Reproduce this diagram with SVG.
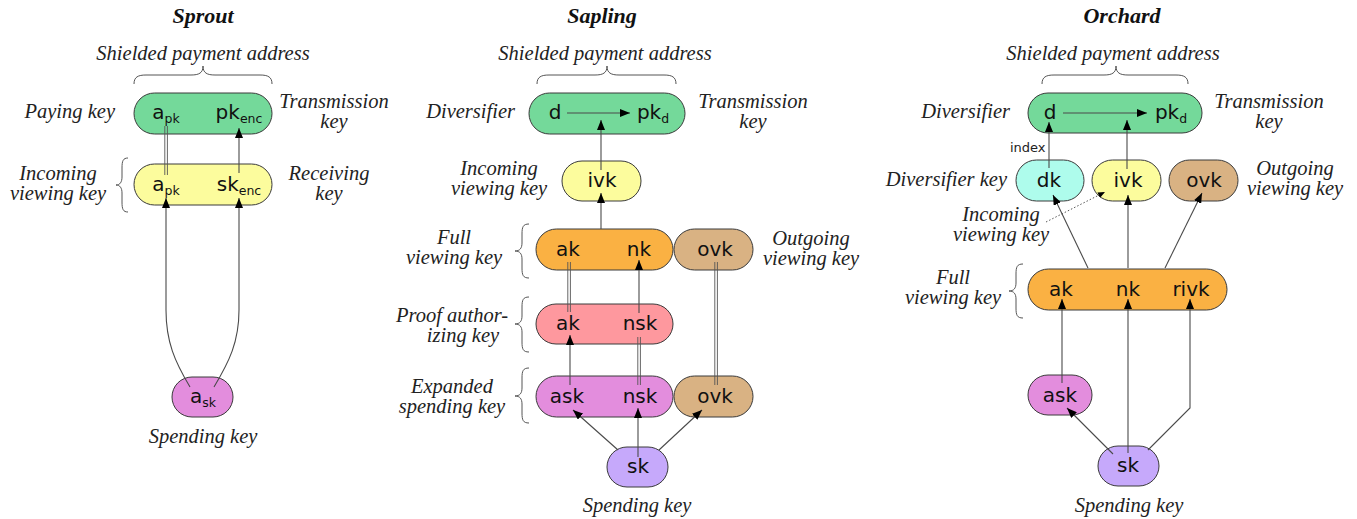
<svg xmlns="http://www.w3.org/2000/svg" width="1357" height="519" viewBox="0 0 1357 519">
<style>
.bg{fill:#ffffff}
.title{font-family:"Liberation Serif",serif;font-style:italic;font-weight:bold;font-size:22px;fill:#111;text-anchor:middle}
.lbl{font-family:"Liberation Serif",serif;font-style:italic;font-size:20.5px;fill:#222}
.mid{text-anchor:middle}
.end{text-anchor:end}
.nt{font-family:"DejaVu Sans",sans-serif;font-size:20px;fill:#111;text-anchor:middle}
.sub{font-size:12.5px}
.small{font-family:"DejaVu Sans",sans-serif;font-size:13px;fill:#222}
.node{stroke:#3a3a3a;stroke-width:1}
.green{fill:#74d99a}.yellow{fill:#fcfc9d}.orange{fill:#fab143}.tan{fill:#d9b283}
.pink{fill:#fe989e}.magenta{fill:#e38ddd}.lav{fill:#c6a9fb}.cyan{fill:#aefcec}
.brace{fill:none;stroke:#555;stroke-width:1}
.arr{fill:none;stroke:#4a4a4a;stroke-width:1.1;marker-end:url(#ah)}
.dbl{fill:none;stroke:#555;stroke-width:0.9}
.dot{fill:none;stroke:#555;stroke-width:1;stroke-dasharray:1.5 2;marker-end:url(#ahs)}
</style>
<defs>
<marker id="ah" markerUnits="userSpaceOnUse" markerWidth="10" markerHeight="8" refX="10" refY="4" orient="auto">
<path d="M0,0 L10,4 L0,8 z" fill="#000"/>
</marker>
<marker id="ahs" markerUnits="userSpaceOnUse" markerWidth="7" markerHeight="6" refX="7" refY="3" orient="auto">
<path d="M0,0 L7,3 L0,6 z" fill="#000"/>
</marker>
</defs>
<rect class="bg" x="0" y="0" width="1357" height="519"/>

<g id="labels">
<text class="title" x="203" y="23">Sprout</text>
<text class="title" x="602" y="23">Sapling</text>
<text class="title" x="1122" y="23">Orchard</text>

<text class="lbl mid" x="203" y="60">Shielded payment address</text>
<text class="lbl end" x="115" y="118">Paying key</text>
<text class="lbl mid" x="334" y="108">Transmission</text>
<text class="lbl mid" x="334" y="128">key</text>
<text class="lbl mid" x="58" y="180">Incoming</text>
<text class="lbl mid" x="58" y="200">viewing key</text>
<text class="lbl mid" x="329" y="180">Receiving</text>
<text class="lbl mid" x="329" y="200">key</text>
<text class="lbl mid" x="203" y="443">Spending key</text>

<text class="lbl mid" x="605" y="60">Shielded payment address</text>
<text class="lbl end" x="515" y="118">Diversifier</text>
<text class="lbl mid" x="753" y="108">Transmission</text>
<text class="lbl mid" x="753" y="128">key</text>
<text class="lbl mid" x="499" y="175">Incoming</text>
<text class="lbl mid" x="499" y="195">viewing key</text>
<text class="lbl mid" x="454" y="244">Full</text>
<text class="lbl mid" x="454" y="264">viewing key</text>
<text class="lbl mid" x="811" y="245">Outgoing</text>
<text class="lbl mid" x="811" y="265">viewing key</text>
<text class="lbl mid" x="452" y="322">Proof author-</text>
<text class="lbl mid" x="463" y="342">izing key</text>
<text class="lbl mid" x="452" y="393">Expanded</text>
<text class="lbl mid" x="452" y="413">spending key</text>
<text class="lbl mid" x="637" y="512">Spending key</text>

<text class="lbl mid" x="1113" y="60">Shielded payment address</text>
<text class="lbl end" x="1010" y="118">Diversifier</text>
<text class="lbl mid" x="1269" y="108">Transmission</text>
<text class="lbl mid" x="1269" y="128">key</text>
<text class="lbl end" x="1007" y="186">Diversifier key</text>
<text class="lbl mid" x="1295" y="175">Outgoing</text>
<text class="lbl mid" x="1295" y="195">viewing key</text>
<text class="lbl mid" x="1001" y="221">Incoming</text>
<text class="lbl mid" x="1001" y="241">viewing key</text>
<text class="lbl mid" x="953" y="284">Full</text>
<text class="lbl mid" x="953" y="304">viewing key</text>
<text class="lbl mid" x="1129" y="512">Spending key</text>
<text class="small" x="1010" y="152">index</text>
</g>

<g id="braces">
<path class="brace" d="M134,84 C134,77 138,75 146,75 L191,75 C199,75 203,73 203,66 C203,73 207,75 215,75 L260,75 C268,75 272,77 272,84"/>
<path class="brace" d="M537,84 C537,77 541,75 549,75 L595,75 C603,75 607,73 607,66 C607,73 611,75 619,75 L664,75 C672,75 676,77 676,84"/>
<path class="brace" d="M1042,84 C1042,77 1046,75 1054,75 L1104,75 C1112,75 1116,73 1116,66 C1116,73 1120,75 1128,75 L1176,75 C1184,75 1188,77 1188,84"/>
<path class="brace" d="M128,158 C123,158 122,161 122,168 L122,177 C122,182 120,185 116,185 C120,185 122,188 122,193 L122,202 C122,209 123,212 128,212"/>
<path class="brace" d="M529,224 C523,224 522,227 522,234 L522,243 C522,248 520,251 515,251 C520,251 522,254 522,259 L522,268 C522,275 523,278 529,278"/>
<path class="brace" d="M529,297 C523,297 522,300 522,307 L522,316 C522,321 520,324 515,324 C520,324 522,327 522,332 L522,342 C522,349 523,352 529,352"/>
<path class="brace" d="M529,368 C523,368 522,371 522,378 L522,388 C522,393 520,396 515,396 C520,396 522,399 522,404 L522,413 C522,420 523,423 529,423"/>
<path class="brace" d="M1023,264 C1017,264 1016,267 1016,274 L1016,283 C1016,288 1014,291 1009,291 C1014,291 1016,294 1016,299 L1016,308 C1016,315 1017,318 1023,318"/>
</g>

<g id="sprout-address">
<rect class="node green" x="134" y="93" width="138" height="41" rx="20.5"/>
<text class="nt" x="166" y="119">a<tspan class="sub" dy="4">pk</tspan></text>
<text class="nt" x="239" y="119">pk<tspan class="sub" dy="4">enc</tspan></text>
</g>
<g id="sprout-ivk">
<rect class="node yellow" x="134" y="164" width="138" height="41" rx="20.5"/>
<text class="nt" x="166" y="191">a<tspan class="sub" dy="4">pk</tspan></text>
<text class="nt" x="239" y="191">sk<tspan class="sub" dy="4">enc</tspan></text>
</g>
<g id="sprout-sk">
<rect class="node magenta" x="172" y="377" width="61" height="40" rx="20"/>
<text class="nt" x="203" y="403">a<tspan class="sub" dy="4">sk</tspan></text>
</g>

<g id="sapling-address">
<rect class="node green" x="529" y="93" width="156" height="41" rx="20.5"/>
<text class="nt" x="555" y="119">d</text>
<text class="nt" x="653" y="119">pk<tspan class="sub" dy="4">d</tspan></text>
</g>
<g id="sapling-ivk">
<rect class="node yellow" x="562" y="161" width="79" height="40" rx="20"/>
<text class="nt" x="602" y="187">ivk</text>
</g>
<g id="sapling-fvk">
<rect class="node orange" x="536" y="229" width="137" height="41" rx="20.5"/>
<text class="nt" x="568" y="256">ak</text>
<text class="nt" x="639" y="256">nk</text>
</g>
<g id="sapling-ovk">
<rect class="node tan" x="674" y="229" width="79" height="41" rx="20.5"/>
<text class="nt" x="715" y="256">ovk</text>
</g>
<g id="sapling-pak">
<rect class="node pink" x="536" y="304" width="137" height="40" rx="20"/>
<text class="nt" x="568" y="330">ak</text>
<text class="nt" x="640" y="330">nsk</text>
</g>
<g id="sapling-expsk">
<rect class="node magenta" x="536" y="376" width="137" height="41" rx="20.5"/>
<text class="nt" x="567" y="403">ask</text>
<text class="nt" x="640" y="403">nsk</text>
</g>
<g id="sapling-ovk2">
<rect class="node tan" x="674" y="376" width="79" height="41" rx="20.5"/>
<text class="nt" x="715" y="403">ovk</text>
</g>
<g id="sapling-sk">
<rect class="node lav" x="607" y="447" width="61" height="40" rx="20"/>
<text class="nt" x="638" y="473">sk</text>
</g>

<g id="orchard-address">
<rect class="node green" x="1028" y="93" width="174" height="40" rx="20"/>
<text class="nt" x="1050" y="119">d</text>
<text class="nt" x="1171" y="119">pk<tspan class="sub" dy="4">d</tspan></text>
</g>
<g id="orchard-dk">
<rect class="node cyan" x="1016" y="160" width="68" height="41" rx="20.5"/>
<text class="nt" x="1049" y="187">dk</text>
</g>
<g id="orchard-ivk">
<rect class="node yellow" x="1092" y="160" width="69" height="41" rx="20.5"/>
<text class="nt" x="1128" y="187">ivk</text>
</g>
<g id="orchard-ovk">
<rect class="node tan" x="1169" y="160" width="69" height="41" rx="20.5"/>
<text class="nt" x="1204" y="187">ovk</text>
</g>
<g id="orchard-fvk">
<rect class="node orange" x="1028" y="269" width="199" height="41" rx="20.5"/>
<text class="nt" x="1061" y="296">ak</text>
<text class="nt" x="1128" y="296">nk</text>
<text class="nt" x="1191" y="296">rivk</text>
</g>
<g id="orchard-ask">
<rect class="node magenta" x="1028" y="375" width="64" height="40" rx="20"/>
<text class="nt" x="1060" y="402">ask</text>
</g>
<g id="orchard-sk">
<rect class="node lav" x="1098" y="446" width="61" height="40" rx="20"/>
<text class="nt" x="1128" y="472">sk</text>
</g>

<g id="connectors">
<line class="dbl" x1="164.8" y1="126" x2="164.8" y2="175"/>
<line class="dbl" x1="167.4" y1="126" x2="167.4" y2="175"/>
<line class="arr" x1="239" y1="173" x2="239" y2="128"/>
<path class="arr" d="M190,387 C175,362 166,342 166,310 L166,198"/>
<path class="arr" d="M214,387 C229,362 239,342 239,310 L239,198"/>

<line class="arr" x1="567" y1="113" x2="630" y2="113"/>
<line class="arr" x1="601" y1="170" x2="601" y2="120"/>
<line class="arr" x1="601" y1="229" x2="601" y2="193"/>
<line class="dbl" x1="567.8" y1="262" x2="567.8" y2="312"/>
<line class="dbl" x1="570.4" y1="262" x2="570.4" y2="312"/>
<line class="arr" x1="639" y1="313" x2="639" y2="260"/>
<line class="dbl" x1="714.8" y1="262" x2="714.8" y2="385"/>
<line class="dbl" x1="717.4" y1="262" x2="717.4" y2="385"/>
<line class="arr" x1="570" y1="385" x2="570" y2="335"/>
<line class="dbl" x1="637.8" y1="337" x2="637.8" y2="385"/>
<line class="dbl" x1="640.4" y1="337" x2="640.4" y2="385"/>
<line class="arr" x1="618" y1="450" x2="573" y2="410"/>
<line class="arr" x1="638" y1="457" x2="638" y2="408"/>
<line class="arr" x1="659" y1="450" x2="702" y2="410"/>

<line class="arr" x1="1063" y1="113" x2="1147" y2="113"/>
<line class="arr" x1="1049" y1="168" x2="1049" y2="122"/>
<line class="arr" x1="1127" y1="169" x2="1127" y2="120"/>
<line class="arr" x1="1088" y1="268" x2="1053" y2="195"/>
<line class="arr" x1="1128" y1="268" x2="1128" y2="195"/>
<line class="arr" x1="1165" y1="268" x2="1202" y2="193"/>
<line class="dot" x1="1046" y1="222" x2="1105" y2="192"/>
<line class="arr" x1="1062" y1="383" x2="1062" y2="299"/>
<line class="arr" x1="1128" y1="453" x2="1128" y2="299"/>
<path class="arr" d="M1148,450 L1190,408 L1190,299"/>
<line class="arr" x1="1113" y1="454" x2="1067" y2="408"/>
</g>
</svg>
